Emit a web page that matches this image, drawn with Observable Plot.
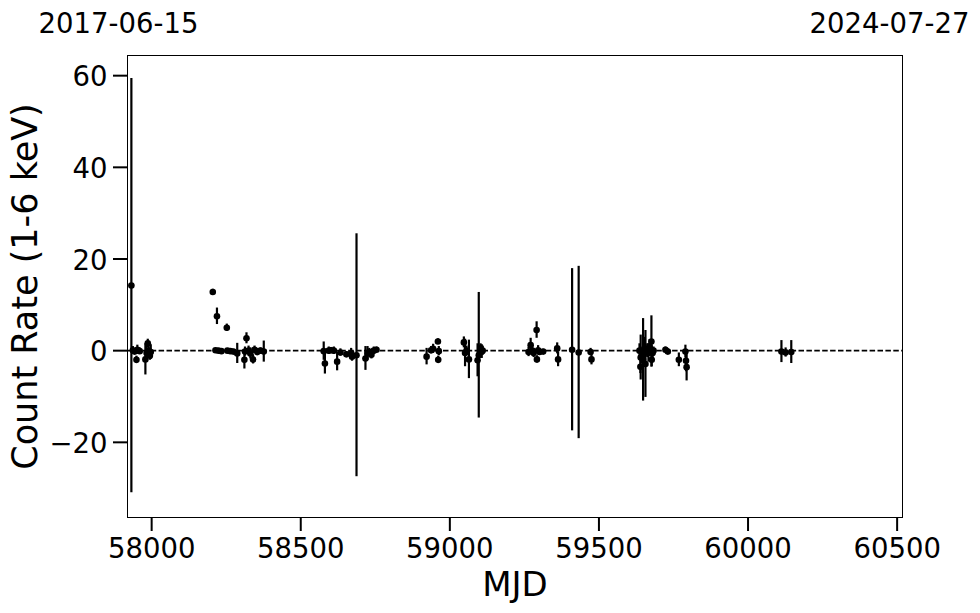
<!DOCTYPE html>
<html><head><meta charset="utf-8">
<script src="https://cdn.jsdelivr.net/npm/d3@7"></script>
<script src="https://cdn.jsdelivr.net/npm/@observablehq/plot@0.6"></script>
<style>body{margin:0;background:#fff}</style>
</head><body><div id="chart"></div>
<script>
const mjd = [
  57932, 57937, 57943, 57949, 57952, 57960, 57979, 57983, 57987, 57990, 57994, 57997,
  58205, 58214, 58219, 58224, 58234, 58252, 58254, 58264, 58274, 58287, 58311, 58313, 58318, 58325, 58331, 58340, 58345, 58354, 58365, 58376,
  58577, 58581, 58594, 58602, 58611, 58622, 58633, 58653, 58669, 58672, 58687, 58717, 58724, 58730, 58737, 58745, 58754,
  58922, 58937, 58944, 58960, 58961, 58963, 59047, 59051, 59056, 59064, 59093, 59097, 59103, 59107, 59110,
  59264, 59271, 59276, 59281, 59291, 59292, 59296, 59301, 59313, 59360, 59363, 59410, 59432, 59472, 59475,
  59636, 59639, 59640, 59645, 59648, 59652, 59656, 59662, 59666, 59670, 59676, 59677, 59680, 59683, 59723, 59731, 59768, 59790, 59792, 59794,
  60112, 60126, 60145
];
const rate = [
  14.2, 0.1, -0.2, -2.0, 0.2, -0.1, -1.9, -0.5, 1.6, 0.0, -1.1, -0.3,
  12.8, 0.1, 7.5, 0.0, -0.1, 5.0, 0.0, -0.1, -0.2, -0.6, -2.0, -0.2, 2.7, 0.0, -0.6, -1.9, 0.2, -0.3, 0.0, -0.2,
  -0.1, -2.8, 0.0, 0.1, 0.0, -2.4, -0.4, -0.8, -0.5, -1.3, -1.0, -1.7, -0.6, -0.3, -0.9, 0.0, 0.2,
  -1.3, 0.1, 0.4, 2.0, -2.0, -0.1, 1.8, -0.5, 0.0, -1.9, -2.1, -1.0, 0.5, -0.2, 0.0,
  -0.3, 1.2, 0.0, -0.5, 4.5, -1.9, 0.1, -0.3, -0.2, 0.5, -1.9, 0.2, -0.4, -0.3, -1.9,
  0.0, -3.5, -1.5, -1.3, -2.0, 0.4, -2.9, 0.0, -0.5, 0.9, 2.0, -2.0, -0.5, 0.0, 0.2, -0.2, -2.0, -0.2, -2.2, -3.6,
  -0.2, -0.4, -0.3
];
const err = [
  45.2, 0.8, 0.6, 0.8, 1.0, 0.7, 3.4, 1.5, 0.9, 1.2, 1.0, 1.6,
  0.6, 0.4, 1.8, 0.4, 0.4, 0.8, 0.4, 0.5, 0.5, 2.2, 2.0, 1.0, 1.2, 1.0, 1.2, 1.0, 0.8, 0.8, 0.6, 2.3,
  2.0, 2.3, 0.8, 0.6, 0.8, 2.0, 0.8, 0.6, 1.0, 1.0, 26.5, 2.6, 1.5, 0.8, 0.9, 0.8, 0.6,
  1.8, 0.8, 1.0, 0.6, 0.8, 1.0, 1.2, 3.0, 1.0, 4.2, 3.6, 13.7, 1.0, 1.5, 1.0,
  1.0, 1.5, 0.8, 1.0, 1.8, 0.8, 1.0, 0.6, 0.5, 1.2, 1.6, 17.7, 18.8, 0.8, 1.2,
  1.5, 1.5, 4.9, 1.5, 9.0, 2.5, 7.3, 1.5, 2.0, 1.5, 5.6, 1.5, 1.2, 0.8, 0.6, 0.6, 1.5, 1.4, 2.4, 3.0,
  2.4, 1.0, 2.5
];
const xTicks = [58000, 58500, 59000, 59500, 60000, 60500];
const yTicks = [-20, 0, 20, 40, 60];
const dateLabels = ["2017-06-15", "2024-07-27"];
const dateMjd = [57919, 60518];
const xLabel = "MJD";
const yLabel = "Count Rate (1-6 keV)";

const data = mjd.map((m, i) => ({mjd: m, rate: rate[i], err: err[i]}));

const chart = Plot.plot({
  width: 980, height: 613,
  marginLeft: 127, marginRight: 78, marginTop: 55, marginBottom: 96,
  style: {fontFamily: "DejaVu Sans", fontSize: "27.5px", background: "white", color: "black", overflow: "visible"},
  x: {domain: dateMjd},
  y: {domain: [-36.4, 64.4]},
  marks: [
    Plot.ruleY([0], {stroke: "black", strokeWidth: 1.6, strokeDasharray: "5.5,2.4"}),
    Plot.ruleX(data, {x: "mjd", y1: d => d.rate - d.err, y2: d => d.rate + d.err, stroke: "black", strokeWidth: 2.2}),
    Plot.dot(data, {x: "mjd", y: "rate", r: 3.3, fill: "black"}),
    Plot.frame({stroke: "black", strokeWidth: 1}),
    Plot.axisX({ticks: xTicks, tickSize: 14, strokeWidth: 2, tickPadding: 7, label: null, tickFormat: d => String(d)}),
    Plot.axisY({ticks: yTicks, tickSize: 14, strokeWidth: 2, tickPadding: 6, label: null, tickFormat: () => ""}),
    Plot.axisY({ticks: yTicks, tickSize: 0, tickPadding: 20, dy: 2, label: null, tickFormat: d => d < 0 ? "\u2212" + Math.abs(d) : String(d)}),
    Plot.text([xLabel], {frameAnchor: "bottom", lineAnchor: "bottom", dy: 78, fontSize: 34}),
    Plot.text([yLabel], {frameAnchor: "left", textAnchor: "middle", rotate: -90, lineAnchor: "bottom", dx: -91, fontSize: 35}),
    Plot.text([dateLabels[0]], {x: [dateMjd[0]], frameAnchor: "top", lineAnchor: "bottom", dy: -23, dx: -9}),
    Plot.text([dateLabels[1]], {x: [dateMjd[1]], frameAnchor: "top", lineAnchor: "bottom", dy: -23, dx: -13})
  ]
});
document.getElementById("chart").appendChild(chart);
</script>
</body></html>
